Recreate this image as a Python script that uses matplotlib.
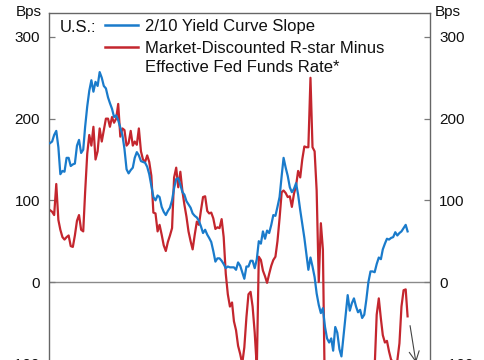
import matplotlib
matplotlib.use('Agg')
import matplotlib.pyplot as plt
import pandas as pd
from matplotlib.lines import Line2D

plt.rcParams['font.family'] = ['Liberation Sans', 'DejaVu Sans']

# ---------------- data (monthly, bps) ----------------
start_month = '2011-10-01'

slope_2_10 = [
    170, 172, 180, 185, 165, 132, 136, 135, 152, 152, 142, 144,
    145, 167, 174, 158, 162, 190, 215, 234, 247, 233, 245, 240,
    257, 250, 240, 237, 226, 219, 212, 202, 204, 198, 189, 180,
    163, 138, 133, 137, 140, 152, 159, 155, 148, 147, 146, 141,
    132, 118, 104, 100, 106, 104, 92, 86, 82, 87, 91, 100,
    115, 126, 127, 119, 110, 107, 99, 95, 91, 84, 81, 79,
    75, 68, 60, 64, 58, 54, 49, 38, 25, 29, 29, 26,
    22, 17, 19, 18, 18, 18, 15, 24, 20, 12, 4, 19,
    19, 26, 26, 17, 28, 50, 47, 62, 53, 63, 60, 70,
    82, 81, 92, 104, 130, 152, 140, 130, 116, 110, 114, 121,
    107, 88, 71, 54, 34, 15, 30, 19, 6, -14, -28, -38,
    -32, -55, -69, -74, -69, -84, -55, -62, -82, -91, -66, -42,
    -16, -35, -26, -20, -30, -37, -34, -44, -40, -22, 0, 13,
    13, 12, 22, 30, 28, 40, 47, 53, 52, 54, 55, 61,
    57, 60, 62, 66, 70, 62,
]

rstar_minus_effr = [
    88, 86, 82, 120, 76, 64, 55, 52, 55, 57, 44, 43,
    57, 75, 82, 64, 62, 110, 157, 180, 167, 190, 150, 160,
    188, 172, 186, 200, 200, 190, 202, 195, 200, 218, 178, 188,
    186, 167, 170, 185, 167, 172, 168, 188, 160, 150, 147, 155,
    147, 130, 85, 84, 62, 70, 58, 45, 38, 49, 57, 66,
    128, 140, 116, 135, 111, 95, 80, 62, 50, 40, 58, 74,
    70, 88, 104, 105, 87, 84, 85, 78, 65, 67, 66, 77,
    55, 10, -15, -30, -25, -48, -59, -78, -88, -100, -80, -43,
    -15, -12, -30, -62, -105, 31, 27, 14, 7, -1, 10, 20,
    27, 31, 50, 78, 110, 112, 109, 104, 105, 92, 108, 118,
    136, 128, 150, 166, 165, 165, 250, 165, 160, 112, 0, 72,
    40, -150, -210, -240, -260, -250, -270, -280, -280, -290, -290, -285,
    -280, -275, -270, -265, -270, -260, -255, -250, -240, -230, -220, -200,
    -170, -105, -40, -20, -45, -65, -74, -72, -85, -95, -98, -100,
    -96, -75, -30, -10, -9, -42,
]

y_ticks = [-100, 0, 100, 200, 300]
label_blue = '2/10 Yield Curve Slope'
label_red_1 = 'Market-Discounted R-star Minus'
label_red_2 = 'Effective Fed Funds Rate*'

BLUE = '#1A7BCB'
RED = '#C4262E'
GREY = '#7a7a7a'

dates = pd.date_range(start_month, periods=len(slope_2_10), freq='MS')

W, H = 485, 360
fig = plt.figure(figsize=(W / 100, H / 100), dpi=100)
ax_top_px, ax_bot_px = 13, 404.6
ax = fig.add_axes([49 / W, 1 - ax_bot_px / H, 381 / W, (ax_bot_px - ax_top_px) / H])

ax.axhline(0, color='#8a8a8a', lw=1.0, zorder=1)
ax.plot(dates, slope_2_10, color=BLUE, lw=1.6, zorder=3, solid_joinstyle='round')
ax.plot(dates, rstar_minus_effr, color=RED, lw=1.6, zorder=2, solid_joinstyle='round')

ax.set_ylim(-150, 329.3)
ax.set_xlim(pd.Timestamp('2011-09-16'), pd.Timestamp('2027-01-25'))
ax.set_yticks(y_ticks)
ax.yaxis.set_ticks_position('both')
ax.tick_params(axis='y', direction='in', length=4, width=0.9, color=GREY,
               labelsize=11, pad=6.5, labelright=True, labelcolor='#111111')
ax.tick_params(axis='x', bottom=False, labelbottom=False, top=False)
for s in ax.spines.values():
    s.set_color('#666666')
    s.set_linewidth(1.0)

# axis unit labels
fig.text(29 / W, 1 - 16 / H, 'Bps', ha='center', va='baseline', fontsize=11, color='#111111')
fig.text(448 / W, 1 - 16 / H, 'Bps', ha='center', va='baseline', fontsize=11, color='#111111')

# legend
fig.text(60 / W, 1 - 32 / H, 'U.S.:', ha='left', va='baseline', fontsize=12, color='#111111')
fig.add_artist(Line2D([105 / W, 138 / W], [1 - 25 / H, 1 - 25 / H], color=BLUE, lw=1.8,
                      transform=fig.transFigure))
fig.add_artist(Line2D([105 / W, 138 / W], [1 - 47 / H, 1 - 47 / H], color=RED, lw=1.8,
                      transform=fig.transFigure))
fig.text(145 / W, 1 - 31 / H, label_blue, ha='left', va='baseline', fontsize=12, color='#111111')
fig.text(145 / W, 1 - 53 / H, label_red_1, ha='left', va='baseline', fontsize=12, color='#111111')
fig.text(145 / W, 1 - 71.5 / H, label_red_2, ha='left', va='baseline', fontsize=12, color='#111111')

# arrow after the last red point
ax.annotate('', xy=(dates[-1] + pd.Timedelta(days=130), rstar_minus_effr[-1] - 60),
            xytext=(dates[-1] + pd.Timedelta(days=30), rstar_minus_effr[-1] - 8),
            arrowprops=dict(arrowstyle='->', color='#444444', lw=0.8, mutation_scale=18))

fig.savefig('out.png', dpi=100)
